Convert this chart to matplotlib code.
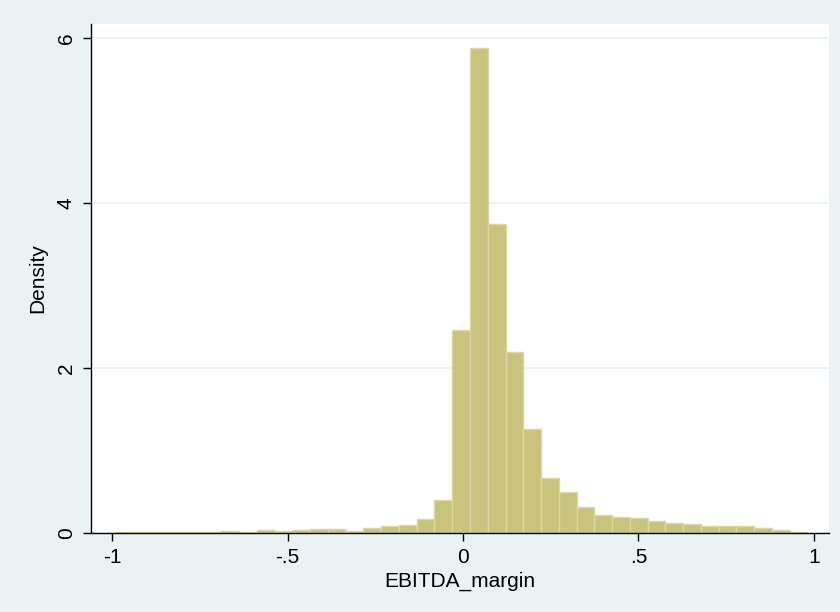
import numpy as np
import matplotlib
matplotlib.use('Agg')
import matplotlib.pyplot as plt

# histogram of EBITDA_margin (Stata style), 39 bins
bin_start = -0.992
bin_width = 0.0506
density = [0.012, 0.010, 0.010, 0.008, 0.010, 0.012,
           0.030, 0.010, 0.040, 0.030, 0.040, 0.050, 0.050, 0.030,
           0.060, 0.085, 0.100, 0.170, 0.394,
           2.465, 5.880, 3.750, 2.200, 1.264, 0.670, 0.500, 0.318,
           0.220, 0.188, 0.176, 0.148, 0.124, 0.107, 0.079, 0.087,
           0.087, 0.055, 0.039, 0.018]

x_ticks = [-1, -0.5, 0, 0.5, 1]
x_labels = ['-1', '-.5', '0', '.5', '1']
y_ticks = [0, 2, 4, 6]

bg = '#eaf2f3'
plt.rcParams['font.family'] = ['Liberation Sans', 'DejaVu Sans']

fig = plt.figure(figsize=(8.4, 6.12), dpi=100, facecolor=bg)
ax = fig.add_axes([91/840, 1-533/612, (829-91)/840, (533-24)/612])
ax.set_facecolor('white')

lefts = bin_start + bin_width*np.arange(len(density))
ax.bar(lefts, density, width=bin_width, align='edge',
       color='#cac37e', edgecolor='#dcd8a2', linewidth=1.0, zorder=2)

# grid lines
for yv in y_ticks:
    ax.axhline(yv, color=bg, linewidth=1.2, zorder=1)

ax.set_xlim(-1.06, 1.043)
ax.set_ylim(0, 6.17)
ax.set_xticks(x_ticks)
ax.set_xticklabels(x_labels)
ax.set_yticks(y_ticks)
ax.set_yticklabels([str(v) for v in y_ticks], rotation=90, va='center')

for s in ['top', 'right']:
    ax.spines[s].set_visible(False)
for s in ['left', 'bottom']:
    ax.spines[s].set_color('black')
    ax.spines[s].set_linewidth(1.0)
ax.tick_params(direction='out', length=6, width=1.0, labelsize=15, pad=5)

ax.set_xlabel('EBITDA_margin', fontsize=15, labelpad=3)
ax.set_ylabel('Density', fontsize=15, labelpad=7)

fig.savefig('out.png', dpi=100, facecolor=bg)
